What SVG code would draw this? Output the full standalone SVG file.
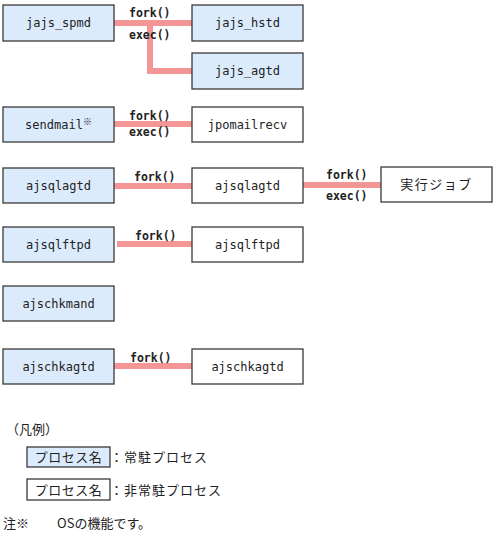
<svg xmlns="http://www.w3.org/2000/svg" width="496" height="535" viewBox="0 0 496 535">
<style>
.res{fill:#dcebfb;stroke:#3a3a3a;stroke-width:1.3}
.non{fill:#ffffff;stroke:#3a3a3a;stroke-width:1.3}
.nt{font-family:"DejaVu Sans Mono","Noto Sans CJK JP",monospace;font-size:12px;fill:#222;text-anchor:middle}
.jt{font-family:"Noto Sans CJK JP",sans-serif;font-size:13px;fill:#222}
.lbl{font-family:"DejaVu Sans Mono","Noto Sans CJK JP",monospace;font-size:11.5px;font-weight:bold;fill:#222}
.con{fill:none;stroke:#f59696;stroke-width:6}
</style>
<rect width="496" height="535" fill="#ffffff"/>
<g id="connectors">
<path class="con" d="M114,23 H192 M150,23 V71 H192"/>
<path class="con" d="M114,124 H192"/>
<path class="con" d="M114,186 H192"/>
<path class="con" d="M303,185 H381"/>
<path class="con" d="M117,244 H192"/>
<path class="con" d="M114,366 H192"/>
<text class="lbl" x="129" y="17">fork()</text>
<text class="lbl" x="129" y="39">exec()</text>
<text class="lbl" x="129" y="120">fork()</text>
<text class="lbl" x="129" y="136">exec()</text>
<text class="lbl" x="134" y="181">fork()</text>
<text class="lbl" x="326" y="179">fork()</text>
<text class="lbl" x="326" y="200">exec()</text>
<text class="lbl" x="135" y="240">fork()</text>
<text class="lbl" x="130" y="362">fork()</text>
</g>
<g id="jajs_spmd"><rect class="res" x="3" y="5" width="111" height="36"/><text class="nt" x="58.5" y="27">jajs_spmd</text></g>
<g id="jajs_hstd"><rect class="res" x="192" y="5" width="111" height="36"/><text class="nt" x="247.5" y="27">jajs_hstd</text></g>
<g id="jajs_agtd"><rect class="res" x="192" y="53" width="111" height="36"/><text class="nt" x="247.5" y="75">jajs_agtd</text></g>
<g id="sendmail"><rect class="res" x="3" y="107" width="111" height="35"/><text class="nt" x="58.5" y="129">sendmail<tspan font-size="9" dy="-4">※</tspan></text></g>
<g id="jpomailrecv"><rect class="non" x="192" y="107" width="111" height="35"/><text class="nt" x="247.5" y="129">jpomailrecv</text></g>
<g id="ajsqlagtd_r"><rect class="res" x="3" y="168" width="111" height="35"/><text class="nt" x="58.5" y="190">ajsqlagtd</text></g>
<g id="ajsqlagtd_n"><rect class="non" x="192" y="168" width="111" height="35"/><text class="nt" x="247.5" y="190">ajsqlagtd</text></g>
<g id="job"><rect class="non" x="381" y="167" width="111" height="35"/><text class="jt" x="436.5" y="189" text-anchor="middle" letter-spacing="1.5">実行ジョブ</text></g>
<g id="ajsqlftpd_r"><rect class="res" x="3" y="227" width="111" height="35"/><text class="nt" x="58.5" y="249">ajsqlftpd</text></g>
<g id="ajsqlftpd_n"><rect class="non" x="192" y="227" width="111" height="35"/><text class="nt" x="247.5" y="249">ajsqlftpd</text></g>
<g id="ajschkmand"><rect class="res" x="3" y="286" width="111" height="35"/><text class="nt" x="58.5" y="308">ajschkmand</text></g>
<g id="ajschkagtd_r"><rect class="res" x="3" y="349" width="111" height="35"/><text class="nt" x="58.5" y="371">ajschkagtd</text></g>
<g id="ajschkagtd_n"><rect class="non" x="192" y="349" width="111" height="35"/><text class="nt" x="247.5" y="371">ajschkagtd</text></g>
<g id="legend">
<text class="jt" x="6" y="434">（凡例）</text>
<rect class="res" x="27" y="447" width="83" height="20"/>
<text class="jt" x="68.5" y="462" text-anchor="middle" letter-spacing="0.5">プロセス名</text>
<text class="jt" x="110" y="462" letter-spacing="1">：常駐プロセス</text>
<rect class="non" x="27" y="479" width="83" height="21"/>
<text class="jt" x="68.5" y="495" text-anchor="middle" letter-spacing="0.5">プロセス名</text>
<text class="jt" x="110" y="495" letter-spacing="1">：非常駐プロセス</text>
<text class="jt" x="3" y="528">注※</text>
<text class="jt" x="57" y="528">OSの機能です。</text>
</g>
</svg>
